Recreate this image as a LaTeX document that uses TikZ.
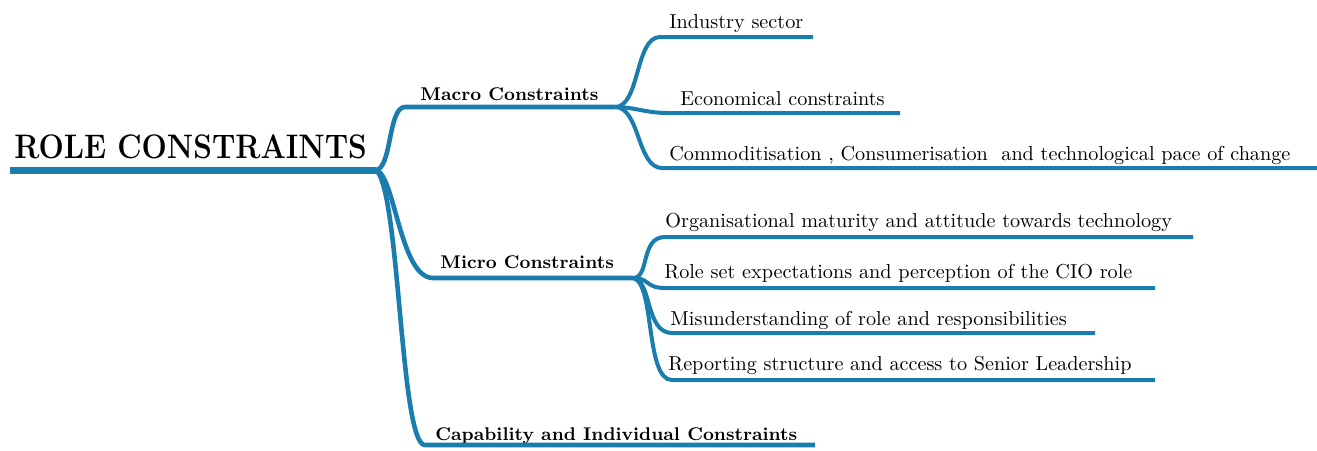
\documentclass[tikz,border=0pt]{standalone}
\usepackage{fontspec}
\definecolor{mapblue}{HTML}{1A7DAE}
\begin{document}
\begin{tikzpicture}[x=0.5pt,y=-0.5pt]
  \tikzstyle{trunk}=[line width=3.5pt, draw=mapblue]
  \tikzstyle{branch}=[line width=2.3pt, draw=mapblue]
  \tikzstyle{twig}=[line width=2pt, draw=mapblue]
  \tikzstyle{head}=[anchor=base west, inner sep=0pt, font=\bfseries\fontsize{9.2}{12}\selectfont]
  \tikzstyle{item}=[anchor=base west, inner sep=0pt, font=\fontsize{10.1}{12}\selectfont]
  \useasboundingbox (0,0) rectangle (1317,450);
  % root
  \coordinate (role-s) at (10,170);
  \coordinate (role) at (376,170);
  \node[anchor=base west, inner sep=0pt, font=\bfseries\fontsize{17}{20}\selectfont] (role-t) at (14,158) {\scalebox{0.88}[1]{ROLE CONSTRAINTS}};
  \draw[trunk] (role-s) -- (role);
  % first level
  \coordinate (macro-s) at (405,107);
  \coordinate (macro) at (615,107);
  \node[head] (macro-t) at (420,100) {Macro Constraints};
  \draw[branch] (role) .. controls (392,168) and (388,107) .. (macro-s) -- (macro);
  \coordinate (micro-s) at (433,278);
  \coordinate (micro) at (633,278);
  \node[head] (micro-t) at (440,268) {Micro Constraints};
  \draw[branch] (role) .. controls (395,175) and (400,278) .. (micro-s) -- (micro);
  \coordinate (capab-s) at (425,445);
  \coordinate (capab) at (815,445);
  \node[head] (capab-t) at (435,440) {Capability and Individual Constraints};
  \draw[branch] (role) .. controls (400,190) and (400,445) .. (capab-s) -- (capab);
  % macro constraints
  \coordinate (sector-s) at (660,37);
  \coordinate (sector) at (813,37);
  \node[item] (sector-t) at (669,28) {Industry sector};
  \draw[twig] (macro) .. controls (640,107) and (635,37) .. (sector-s) -- (sector);
  \coordinate (econ-s) at (668,113);
  \coordinate (econ) at (900,113);
  \node[item] (econ-t) at (680,105) {Economical constraints};
  \draw[twig] (macro) .. controls (635,107) and (645,113) .. (econ-s) -- (econ);
  \coordinate (pace-s) at (662,168);
  \coordinate (pace) at (1317,168);
  \node[item] (pace-t) at (669,160) {Commoditisation , Consumerisation\ \ and technological pace of change};
  \draw[twig] (macro) .. controls (640,107) and (637,168) .. (pace-s) -- (pace);
  % micro constraints
  \coordinate (matur-s) at (665,237);
  \coordinate (matur) at (1193,237);
  \node[item] (matur-t) at (665,227) {Organisational maturity and attitude towards technology};
  \draw[twig] (micro) .. controls (650,278) and (640,237) .. (matur-s) -- (matur);
  \coordinate (roleset-s) at (665,288);
  \coordinate (roleset) at (1155,288);
  \node[item] (roleset-t) at (664,278) {Role set expectations and perception of the CIO role};
  \draw[twig] (micro) .. controls (650,278) and (645,288) .. (roleset-s) -- (roleset);
  \coordinate (misund-s) at (672,333);
  \coordinate (misund) at (1095,333);
  \node[item] (misund-t) at (670,325) {Misunderstanding of role and responsibilities};
  \draw[twig] (micro) .. controls (652,280) and (645,333) .. (misund-s) -- (misund);
  \coordinate (report-s) at (672,380);
  \coordinate (report) at (1155,380);
  \node[item] (report-t) at (668,370) {Reporting structure and access to Senior Leadership};
  \draw[twig] (micro) .. controls (655,282) and (645,380) .. (report-s) -- (report);
\end{tikzpicture}
\end{document}
